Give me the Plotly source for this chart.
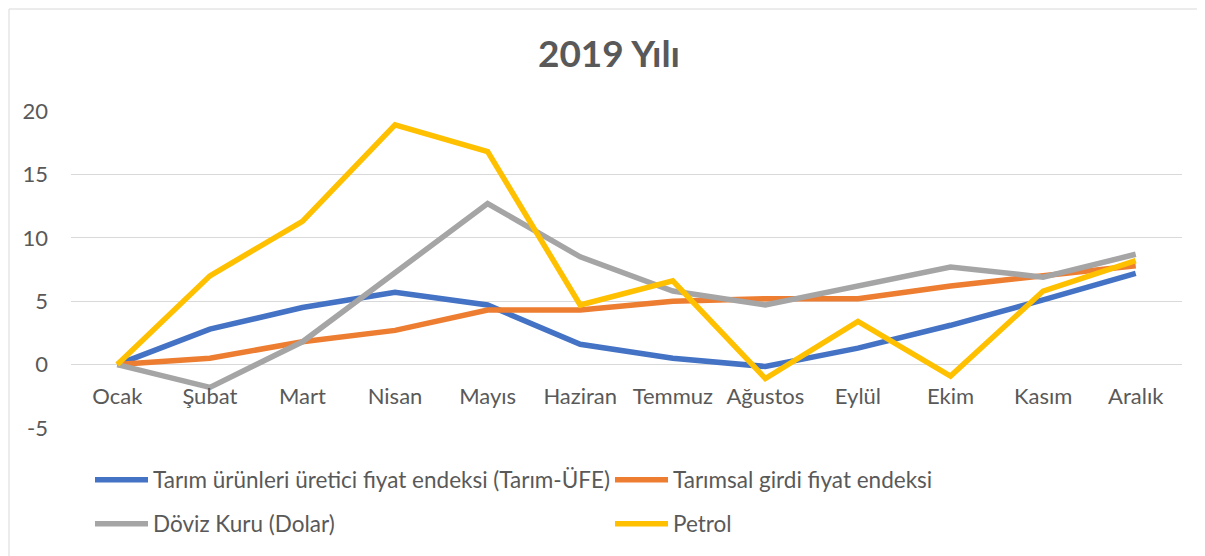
import plotly.graph_objects as go

months = ["Ocak", "Şubat", "Mart", "Nisan", "Mayıs", "Haziran", "Temmuz",
          "Ağustos", "Eylül", "Ekim", "Kasım", "Aralık"]

tarim_ufe = [0, 2.8, 4.5, 5.7, 4.7, 1.6, 0.5, -0.15, 1.3, 3.1, 5.1, 7.2]
girdi = [0, 0.5, 1.8, 2.7, 4.3, 4.3, 5.0, 5.2, 5.2, 6.2, 7.0, 7.8]
doviz = [0, -1.8, 1.8, 7.2, 12.7, 8.5, 5.8, 4.7, 6.2, 7.7, 6.9, 8.7]
petrol = [0, 7.0, 11.3, 18.9, 16.8, 4.7, 6.6, -1.1, 3.4, -0.9, 5.8, 8.2]

y_ticks = [-5, 0, 5, 10, 15, 20]
y_tick_text = ["-5", "0", "5", "10", "15", "20"]

names = ["Tarım ürünleri üretici fiyat endeksi (Tarım-ÜFE)",
         "Tarımsal girdi fiyat endeksi",
         "Döviz Kuru (Dolar)",
         "Petrol"]
colors = ["#4472C4", "#ED7D31", "#A5A5A5", "#FFC000"]
legends = ["legend", "legend2", "legend3", "legend4"]

FONT = "Lato"
TXT = "#595959"

fig = go.Figure()
for vals, nm, col, lg in zip([tarim_ufe, girdi, doviz, petrol], names, colors, legends):
    fig.add_trace(go.Scatter(x=months, y=vals, name=nm, mode="lines",
                             line=dict(color=col, width=5.5),
                             legend=lg, showlegend=True))

# page body has an 8px default margin
OFF = 8
W, H = 1205 - OFF, 556 - OFF
PLOT_L, PLOT_R, PLOT_T, PLOT_B = 71, 1182, 111, 428
PW, PH = PLOT_R - PLOT_L, PLOT_B - PLOT_T


def px_x(x):
    return (x - PLOT_L) / PW


def px_y(y):
    return (PLOT_B - y) / PH


def leg(xpx, ypx):
    return dict(orientation="h", itemwidth=53,
                font=dict(family=FONT, size=22.5, color=TXT),
                bgcolor="rgba(0,0,0,0)", xanchor="left", yanchor="middle",
                x=px_x(xpx), y=px_y(ypx))


fig.update_layout(
    width=W, height=H,
    showlegend=True,
    margin=dict(l=PLOT_L - OFF, r=W - (PLOT_R - OFF), t=PLOT_T - OFF,
                b=H - (PLOT_B - OFF), autoexpand=False),
    paper_bgcolor="white", plot_bgcolor="white",
    title=dict(text="<b>2019 Yılı</b>", x=(609 - OFF) / W, xanchor="center",
               y=1 - (54 - OFF) / H, yanchor="middle",
               font=dict(family=FONT, size=37, color=TXT)),
    xaxis=dict(type="category", range=[-0.5, 11.5], anchor="free", position=0.2,
               showgrid=False, showline=False, zeroline=False, ticks="",
               tickfont=dict(family=FONT, size=22, color=TXT),
               ticklabelstandoff=16),
    yaxis=dict(range=[-5, 20], tickvals=y_ticks, ticktext=y_tick_text,
               showgrid=True, gridcolor="#D9D9D9", gridwidth=1, zeroline=False,
               showline=False, ticks="",
               tickfont=dict(family=FONT, size=22, color=TXT),
               ticklabelstandoff=22),
    legend=leg(90, 480),
    legend2=leg(610, 480),
    legend3=leg(90, 524),
    legend4=leg(610, 524),
    shapes=[dict(type="rect", xref="paper", yref="paper",
                 x0=px_x(OFF + 1), x1=px_x(1215),
                 y0=px_y(566), y1=px_y(OFF + 1),
                 line=dict(color="#D9D9D9", width=1), layer="below")],
)

fig.write_html("out.html")
